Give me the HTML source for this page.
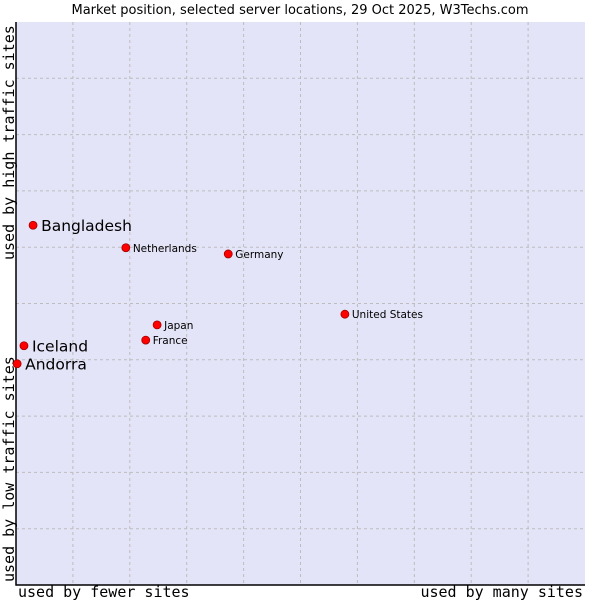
<!DOCTYPE html>
<html><head><meta charset="utf-8"><style>
body{margin:0;background:#fff;}
svg text{font-family:"DejaVu Sans","Liberation Sans",sans-serif;}
</style></head><body>
<svg id="c" width="600" height="600" xmlns="http://www.w3.org/2000/svg">
<text x="300" y="14" text-anchor="middle" font-size="13" fill="#000">Market position, selected server locations, 29 Oct 2025, W3Techs.com</text>
<rect x="16" y="22" width="569" height="563" fill="#e3e4f8" stroke="none"/>
<g id="grid"></g>
<path d="M16 22V585H585" fill="none" stroke="#000" stroke-width="1.5"/>
<text x="18" y="597" font-size="15" style="font-family:'DejaVu Sans Mono','Liberation Mono',monospace">used by fewer sites</text>
<text x="583" y="597" text-anchor="end" font-size="15" style="font-family:'DejaVu Sans Mono','Liberation Mono',monospace">used by many sites</text>
<text transform="translate(14,582) rotate(-90)" font-size="15" style="font-family:'DejaVu Sans Mono','Liberation Mono',monospace">used by low traffic sites</text>
<text transform="translate(14,260) rotate(-90)" font-size="15" style="font-family:'DejaVu Sans Mono','Liberation Mono',monospace">used by high traffic sites</text>
<g id="pts"></g>
</svg>
<script>
const countries=["Bangladesh","Netherlands","Germany","United States","Japan","France","Iceland","Andorra"];
const xValues=[3.0,19.3,37.3,57.8,24.8,22.8,1.4,0.2];
const yValues=[63.9,59.9,58.8,48.1,46.2,43.5,42.5,39.3];
const highlighted=[true,false,false,false,false,false,true,true];
const ns="http://www.w3.org/2000/svg";
const X0=16,X1=585,Y0=585,Y1=22;
function sx(v){return X0+(X1-X0)*v/100;}
function sy(v){return Y0-(Y0-Y1)*v/100;}
const grid=document.getElementById('grid');
for(let i=1;i<10;i++){
 const v=document.createElementNS(ns,'line');
 v.setAttribute('x1',sx(i*10));v.setAttribute('x2',sx(i*10));v.setAttribute('y1',Y1);v.setAttribute('y2',Y0);
 v.setAttribute('stroke','#bdbdbd');v.setAttribute('stroke-dasharray','3,3');
 
 
 grid.appendChild(v);
 const h=document.createElementNS(ns,'line');
 h.setAttribute('y1',sy(i*10));h.setAttribute('y2',sy(i*10));h.setAttribute('x1',X0);h.setAttribute('x2',X1);
 h.setAttribute('stroke','#bdbdbd');h.setAttribute('stroke-dasharray','3,3');
 
 
 grid.appendChild(h);
}
const pts=document.getElementById('pts');
countries.forEach((c,i)=>{
 const x=sx(xValues[i]),y=sy(yValues[i]);
 const m=document.createElementNS(ns,'circle');
 m.setAttribute('cx',x);m.setAttribute('cy',y);m.setAttribute('r',4);
 m.setAttribute('fill','#ff0000');m.setAttribute('stroke','#a00000');m.setAttribute('stroke-width','0.8');
 
 
 pts.appendChild(m);
 const t=document.createElementNS(ns,'text');
 const big=highlighted[i];
 t.setAttribute('x',x+(big?8:7));t.setAttribute('y',y+(big?6:4));
 t.setAttribute('font-size',big?15.5:10.5);
 t.textContent=c;
 
 
 pts.appendChild(t);
});
</script>
</body></html>
